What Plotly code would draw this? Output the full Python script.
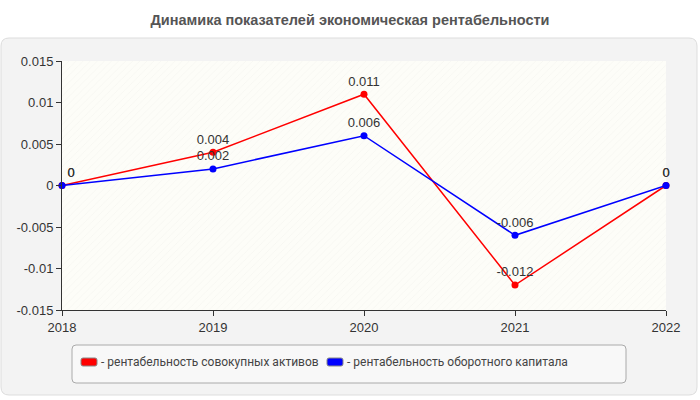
import plotly.graph_objects as go

years = [2018, 2019, 2020, 2021, 2022]
assets = [0, 0.004, 0.011, -0.012, 0]
working = [0, 0.002, 0.006, -0.006, 0]
assets_labels = ["0", "0.004", "0.011", "-0.012", "0"]
working_labels = ["0", "0.002", "0.006", "-0.006", "0"]
name_assets = "- рентабельность совокупных активов"
name_working = "- рентабельность оборотного капитала"
title = "Динамика показателей экономическая рентабельности"
y_ticks = [-0.015, -0.01, -0.005, 0, 0.005, 0.01, 0.015]

L, R, T, B = 62, 34, 61, 90
W, H = 700, 400
pw, ph = W - L - R, H - T - B


def px(x):
    return (x - L) / pw


def py(y):
    return (H - B - y) / ph


def rounded(x0, y0, x1, y1, r):
    # pixel coords -> paper path
    rx, ry = r / pw, r / ph
    a0, a1 = px(x0), px(x1)
    b0, b1 = py(y1), py(y0)  # bottom, top
    return (f"M{a0+rx},{b1} L{a1-rx},{b1} Q{a1},{b1} {a1},{b1-ry} "
            f"L{a1},{b0+ry} Q{a1},{b0} {a1-rx},{b0} L{a0+rx},{b0} "
            f"Q{a0},{b0} {a0},{b0+ry} L{a0},{b1-ry} Q{a0},{b1} {a0+rx},{b1} Z")


fig = go.Figure()

# hatched plot background
fig.add_trace(go.Scatter(
    x=[years[0], years[-1], years[-1], years[0], years[0]],
    y=[y_ticks[0], y_ticks[0], y_ticks[-1], y_ticks[-1], y_ticks[0]],
    mode="none", fill="toself", fillcolor="rgba(0,0,0,0)",
    fillpattern=dict(shape="/", fgcolor="#eeeeea", bgcolor="#fdfdf8", size=5, solidity=0.15),
    hoverinfo="skip", showlegend=False))

fig.add_trace(go.Scatter(
    x=years, y=assets, mode="lines+markers+text", name=name_assets,
    line=dict(color="#ff0000", width=1.5), marker=dict(color="#ff0000", size=7),
    text=assets_labels,
    textposition=["top right", "top center", "top center", "top center", "top center"],
    textfont=dict(size=13, color="#333333", family="Arial"),
    cliponaxis=False, showlegend=False))

fig.add_trace(go.Scatter(
    x=years, y=working, mode="lines+markers+text", name=name_working,
    line=dict(color="#0000ff", width=1.5), marker=dict(color="#0000ff", size=7),
    text=working_labels,
    textposition=["top right", "top center", "top center", "top center", "top center"],
    textfont=dict(size=13, color="#333333", family="Arial"),
    cliponaxis=False, showlegend=False))

shapes = [
    dict(type="path", xref="paper", yref="paper", layer="below",
         path=rounded(1, 38, 697, 395, 8),
         fillcolor="#f3f3f3", line=dict(color="#dddddd", width=1)),
    dict(type="path", xref="paper", yref="paper", layer="above",
         path=rounded(72, 345, 626, 383, 4),
         fillcolor="#f8f8f8", line=dict(color="#aaaaaa", width=1)),
    dict(type="path", xref="paper", yref="paper", layer="above",
         path=rounded(81, 358, 97, 366, 2),
         fillcolor="#ff0000", line=dict(color="#888888", width=1)),
    dict(type="path", xref="paper", yref="paper", layer="above",
         path=rounded(327, 358, 343, 366, 2),
         fillcolor="#0000ff", line=dict(color="#888888", width=1)),
]

annotations = [
    dict(text=name_assets, xref="paper", yref="paper", x=px(99), y=py(362),
         xanchor="left", yanchor="middle", showarrow=False,
         font=dict(size=12, color="#444444", family="Roboto")),
    dict(text=name_working, xref="paper", yref="paper", x=px(345), y=py(362),
         xanchor="left", yanchor="middle", showarrow=False,
         font=dict(size=12, color="#444444", family="Roboto")),
]

fig.update_layout(
    width=W, height=H,
    margin=dict(l=L, r=R, t=T, b=B),
    paper_bgcolor="#ffffff", plot_bgcolor="#fdfdf8",
    title=dict(text="<b>" + title + "</b>", x=0.5, xref="container", xanchor="center",
               y=1 - 20 / H, yref="container", yanchor="middle",
               font=dict(size=14.5, color="#555555", family="Arial")),
    shapes=shapes, annotations=annotations,
    font=dict(family="Arial", size=13, color="#333333"),
    xaxis=dict(range=[years[0], years[-1]], tickvals=years, ticktext=[str(y) for y in years],
               showline=True, linecolor="#333333", linewidth=1,
               ticks="outside", ticklen=5, tickcolor="#333333",
               showgrid=True, gridcolor="#dddddd", griddash="dash", gridwidth=1,
               zeroline=False, tickfont=dict(size=13, color="#333333")),
    yaxis=dict(range=[y_ticks[0], y_ticks[-1]], tickvals=y_ticks,
               ticktext=["-0.015", "-0.01", "-0.005", "0", "0.005", "0.01", "0.015"],
               showline=True, linecolor="#333333", linewidth=1,
               ticks="outside", ticklen=5, tickcolor="#333333",
               showgrid=True, gridcolor="#dddddd", griddash="dash", gridwidth=1,
               zeroline=False, tickfont=dict(size=13, color="#333333")),
)

fig.write_html("out.html")
